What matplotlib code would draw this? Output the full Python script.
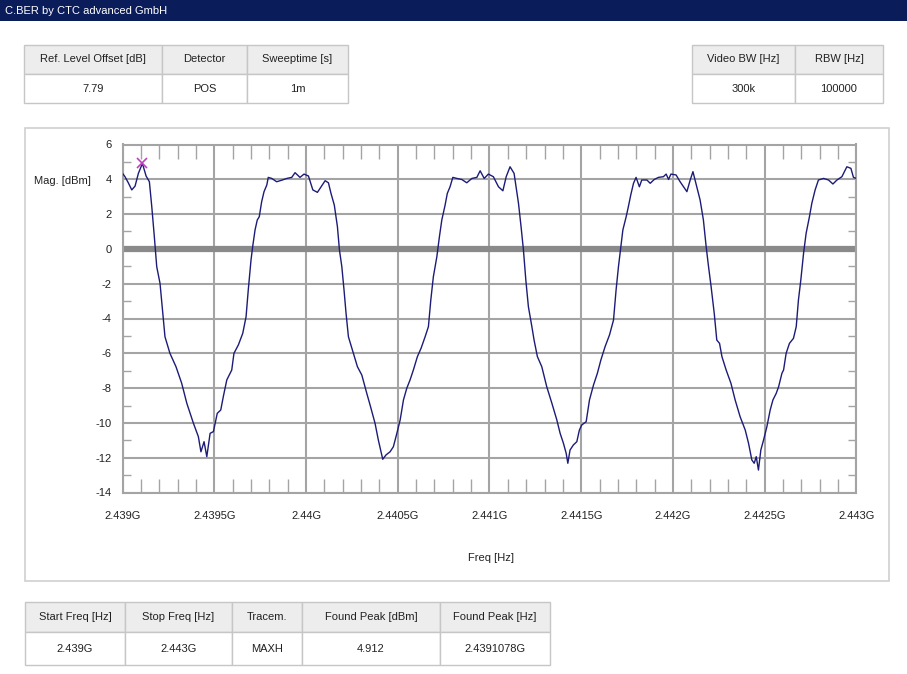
import matplotlib
matplotlib.use('Agg')
import matplotlib.pyplot as plt
from matplotlib.patches import Rectangle

plt.rcParams['font.family'] = ['Liberation Sans', 'DejaVu Sans']
plt.rcParams['axes.unicode_minus'] = False

W, H = 907, 674

title = "C.BER by CTC advanced GmbH"

top_left_headers = ["Ref. Level Offset [dB]", "Detector", "Sweeptime [s]"]
top_left_values = ["7.79", "POS", "1m"]
top_right_headers = ["Video BW [Hz]", "RBW [Hz]"]
top_right_values = ["300k", "100000"]
bottom_headers = ["Start Freq [Hz]", "Stop Freq [Hz]", "Tracem.",
                  "Found Peak [dBm]", "Found Peak [Hz]"]
bottom_values = ["2.439G", "2.443G", "MAXH", "4.912", "2.4391078G"]

# trace (MHz, dBm)
freq_mhz = [
    2439.000, 2439.013, 2439.031, 2439.050, 2439.068, 2439.086, 2439.108, 2439.128,
    2439.146, 2439.159, 2439.173, 2439.186, 2439.204, 2439.219, 2439.231, 2439.258,
    2439.291, 2439.322, 2439.350, 2439.386, 2439.413, 2439.427, 2439.444, 2439.459,
    2439.477, 2439.495, 2439.516, 2439.535, 2439.549, 2439.568, 2439.595, 2439.607,
    2439.631, 2439.655, 2439.673, 2439.685, 2439.700, 2439.709, 2439.722, 2439.734,
    2439.745, 2439.758, 2439.771, 2439.786, 2439.794, 2439.813, 2439.840, 2439.868,
    2439.895, 2439.922, 2439.940, 2439.967, 2439.989, 2440.013, 2440.037, 2440.062,
    2440.082, 2440.104, 2440.122, 2440.136, 2440.154, 2440.171, 2440.182, 2440.195,
    2440.207, 2440.218, 2440.231, 2440.258, 2440.280, 2440.304, 2440.331, 2440.349,
    2440.376, 2440.394, 2440.418, 2440.436, 2440.458, 2440.476, 2440.495, 2440.513,
    2440.531, 2440.549, 2440.567, 2440.585, 2440.607, 2440.627, 2440.649, 2440.667,
    2440.680, 2440.694, 2440.713, 2440.727, 2440.740, 2440.758, 2440.770, 2440.785,
    2440.800, 2440.822, 2440.849, 2440.876, 2440.904, 2440.931, 2440.949, 2440.971,
    2440.994, 2441.021, 2441.049, 2441.073, 2441.091, 2441.112, 2441.134, 2441.158,
    2441.172, 2441.185, 2441.198, 2441.212, 2441.231, 2441.243, 2441.261, 2441.285,
    2441.312, 2441.340, 2441.367, 2441.385, 2441.403, 2441.418, 2441.427, 2441.439,
    2441.457, 2441.476, 2441.490, 2441.503, 2441.527, 2441.545, 2441.567, 2441.588,
    2441.607, 2441.630, 2441.654, 2441.676, 2441.690, 2441.703, 2441.716, 2441.727,
    2441.745, 2441.757, 2441.770, 2441.785, 2441.799, 2441.817, 2441.830, 2441.858,
    2441.876, 2441.898, 2441.921, 2441.948, 2441.963, 2441.976, 2441.989, 2442.017,
    2442.039, 2442.076, 2442.094, 2442.109, 2442.130, 2442.148, 2442.166, 2442.181,
    2442.194, 2442.208, 2442.225, 2442.239, 2442.254, 2442.267, 2442.290, 2442.316,
    2442.339, 2442.366, 2442.394, 2442.412, 2442.430, 2442.443, 2442.454, 2442.466,
    2442.479, 2442.494, 2442.512, 2442.530, 2442.545, 2442.563, 2442.576, 2442.594,
    2442.603, 2442.617, 2442.635, 2442.657, 2442.672, 2442.684, 2442.697, 2442.712,
    2442.726, 2442.744, 2442.757, 2442.775, 2442.793, 2442.821, 2442.848, 2442.872,
    2442.894, 2442.921, 2442.948, 2442.970, 2442.984, 2443.000,
]
mag_dbm = [
    4.34, 4.15, 3.80, 3.39, 3.61, 4.34, 4.91, 4.19,
    3.86, 2.43, 0.70, -1.02, -1.98, -3.70, -5.05, -6.00,
    -6.77, -7.72, -8.87, -10.02, -10.79, -11.66, -11.08, -11.94,
    -10.60, -10.50, -9.45, -9.26, -8.49, -7.53, -6.96, -6.00,
    -5.52, -4.85, -3.90, -2.36, -0.64, 0.13, 1.09, 1.66,
    1.85, 2.71, 3.29, 3.67, 4.11, 4.05, 3.86, 3.95,
    4.05, 4.11, 4.38, 4.11, 4.30, 4.19, 3.39, 3.25,
    3.57, 3.92, 3.80, 3.19, 2.52, 1.28, -0.06, -1.02,
    -2.36, -3.70, -5.05, -6.00, -6.77, -7.25, -8.30, -8.97,
    -10.02, -10.98, -12.09, -11.84, -11.66, -11.37, -10.60, -9.83,
    -8.68, -8.01, -7.53, -6.96, -6.19, -5.71, -5.05, -4.47,
    -2.94, -1.60, -0.45, 0.70, 1.66, 2.52, 3.19, 3.57,
    4.11, 4.05, 3.99, 3.80, 4.05, 4.11, 4.49, 4.05,
    4.30, 4.15, 3.57, 3.34, 4.15, 4.72, 4.34, 2.62,
    1.28, -0.06, -1.79, -3.32, -4.47, -5.24, -6.19, -6.77,
    -7.92, -8.87, -9.83, -10.60, -11.17, -11.75, -12.32, -11.56,
    -11.27, -11.08, -10.41, -10.12, -9.93, -8.68, -7.82, -7.15,
    -6.39, -5.62, -4.95, -4.09, -2.36, -1.02, 0.13, 1.09,
    1.85, 2.43, 3.10, 3.77, 4.11, 3.57, 3.96, 3.96,
    3.77, 3.99, 4.11, 4.15, 4.30, 3.99, 4.30, 4.25,
    3.86, 3.29, 3.96, 4.44, 3.57, 2.81, 1.66, 0.13,
    -1.02, -2.17, -3.70, -5.24, -5.43, -6.19, -6.96, -7.72,
    -8.68, -9.64, -10.41, -11.17, -12.13, -12.32, -11.94, -12.71,
    -11.56, -10.98, -10.22, -9.26, -8.68, -8.30, -7.92, -7.15,
    -6.96, -6.00, -5.43, -5.14, -4.47, -2.94, -1.79, -0.25,
    0.90, 1.85, 2.62, 3.39, 3.96, 4.05, 3.96, 3.73,
    3.96, 4.15, 4.72, 4.63, 4.11, 4.05,
]
peak_freq_mhz = 2439.1078
peak_dbm = 4.912

x_ticks = [2439.0, 2439.5, 2440.0, 2440.5, 2441.0, 2441.5, 2442.0, 2442.5, 2443.0]
x_tick_labels = ["2.439G", "2.4395G", "2.44G", "2.4405G", "2.441G",
                 "2.4415G", "2.442G", "2.4425G", "2.443G"]
x_minor = [2439.0 + 0.1 * i for i in range(41) if i % 5 != 0]
y_ticks = [6, 4, 2, 0, -2, -4, -6, -8, -10, -12, -14]
y_minor = [5, 3, 1, -1, -3, -5, -7, -9, -11, -13]

txt = '#222222'
fs = 8

fig = plt.figure(figsize=(W / 100, H / 100), dpi=100)
fig.patch.set_facecolor('white')

# background layer in pixel coords
bg = fig.add_axes([0, 0, 1, 1])
bg.set_xlim(0, W)
bg.set_ylim(H, 0)
bg.axis('off')

bg.add_patch(Rectangle((0, 0), W, 21, facecolor='#0b1c5a', edgecolor='none'))
bg.text(5, 11, title, color='white', fontsize=8, va='center', ha='left')


def draw_table(xs, y0, y1, y2, headers, values):
    for i in range(len(headers)):
        x0, x1 = xs[i], xs[i + 1]
        bg.add_patch(Rectangle((x0, y0), x1 - x0, y1 - y0, facecolor='#ededed',
                               edgecolor='#c6c6c6', lw=1))
        bg.add_patch(Rectangle((x0, y1), x1 - x0, y2 - y1, facecolor='white',
                               edgecolor='#c6c6c6', lw=1))
        bg.text((x0 + x1) / 2, (y0 + y1) / 2, headers[i], ha='center', va='center',
                fontsize=fs, color=txt)
        bg.text((x0 + x1) / 2, (y1 + y2) / 2, values[i], ha='center', va='center',
                fontsize=fs, color=txt)


draw_table([24, 162, 247, 348], 45, 74, 103, top_left_headers, top_left_values)
draw_table([692, 795, 883], 45, 74, 103, top_right_headers, top_right_values)
draw_table([25, 125, 232, 302, 440, 550], 602, 632, 665, bottom_headers, bottom_values)

# plot panel frame
bg.add_patch(Rectangle((25, 128), 864, 453, facecolor='white', edgecolor='#cfcfcf', lw=1.2))
bg.text(62, 181, "Mag. [dBm]", ha='center', va='center', fontsize=fs, color=txt)
bg.text(491, 558, "Freq [Hz]", ha='center', va='center', fontsize=fs, color=txt)

# main axes
ax_l, ax_r, ax_t, ax_b = 122.6, 856.4, 144.5, 492.5
ax = fig.add_axes([ax_l / W, 1 - ax_b / H, (ax_r - ax_l) / W, (ax_b - ax_t) / H])
ax.set_facecolor('white')

ax.axhline(0, color='#8a8a8a', lw=4.5, zorder=2)
ax.plot(freq_mhz, mag_dbm, color='#1c1c78', lw=1.0, zorder=3)
ax.plot([peak_freq_mhz], [peak_dbm], marker='x', color='#c040c0', ms=7, mew=1.2,
        linestyle='none', zorder=4)

ax.set_xlim(2439.0, 2443.0)
ax.set_ylim(-14, 6)
ax.set_xticks(x_ticks)
ax.set_xticklabels(x_tick_labels)
ax.set_xticks(x_minor, minor=True)
ax.set_yticks(y_ticks)
ax.set_yticks(y_minor, minor=True)
ax.grid(True, which='major', color='#a4a4a4', lw=1.5, zorder=1)
ax.set_axisbelow(True)

ax.tick_params(which='major', length=0, labelsize=fs, labelcolor=txt)
ax.tick_params(axis='x', which='major', pad=13)
ax.tick_params(axis='y', which='major', pad=8)
ax.tick_params(axis='x', which='minor', direction='in', length=10, width=1,
               color='#a4a4a4', top=True, bottom=True)
ax.tick_params(axis='y', which='minor', direction='in', length=6, width=1,
               color='#a4a4a4', left=True, right=True)
for s in ax.spines.values():
    s.set_color('#a4a4a4')
    s.set_linewidth(1.5)

fig.savefig('out.png', dpi=100)
